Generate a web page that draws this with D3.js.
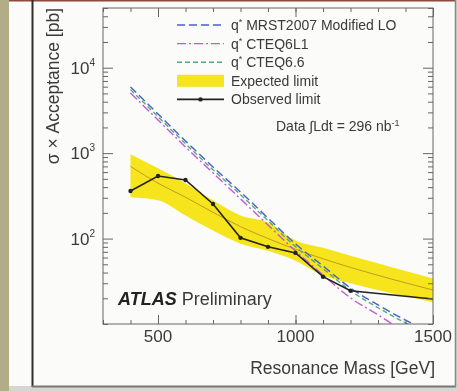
<!DOCTYPE html>
<html>
<head>
<meta charset="utf-8">
<script src="https://cdn.jsdelivr.net/npm/d3@7"></script>
<style>
  body { margin: 0; background: #fff; }
  text { font-family: "Liberation Sans", Arial, sans-serif; fill: #3a3a3a; }
</style>
</head>
<body>
<script>
// limit points (GeV, pb)
let masses = [400, 500, 600, 700, 800, 900, 1000, 1100, 1200, 1500];
let observed = [361, 540, 485, 254, 102, 80, 68, 35.8, 24.5, 19.6];
let expected = [700, 445, 305, 203, 138, 100, 75, 58, 46, 25];
let expectedHigh = [970, 665, 445, 280, 186, 154, 95, 78, 63, 34];
let expectedLow = [305, 280, 186, 124, 87, 72, 55, 37, 30, 18];

// theory curves
let theoryMasses = [400, 500, 600, 700, 800, 900, 1000, 1100, 1200, 1300, 1400, 1450];
let mrst = [5960, 2874, 1388, 689, 351, 174, 86.5, 47.8, 26.4, 16.7, 11.1, 9.3];
let cteq6l1 = [5060, 2445, 1180, 587, 291, 144, 71.6, 37.5, 20.2, 12.8, 8, 6.5];
let cteq66 = [5540, 2670, 1290, 640, 326, 162, 80.5, 44.5, 24.5, 15.5, 10.3, 8.6];

let xTicks = [500, 1000, 1500];
let xMinor = d3.range(300, 1501, 100);
let yTicks = [100, 1000, 10000];

let legendLabels = ["MRST2007 Modified LO", "CTEQ6L1", "CTEQ6.6", "Expected limit", "Observed limit"];

let width = 458, height = 391;

let svg = d3.select("body").append("svg")
  .attr("width", width)
  .attr("height", height);

let defs = svg.append("defs");
defs.append("filter").attr("id", "soft")
  .append("feGaussianBlur").attr("stdDeviation", 0.45);
defs.append("clipPath").attr("id", "plotclip")
  .append("rect").attr("x", 103).attr("y", 8).attr("width", 330).attr("height", 316);

// slide around the figure
svg.append("rect").attr("width", width).attr("height", height).attr("fill", "#d6d6d0");
svg.append("rect").attr("width", 9).attr("height", height).attr("fill", "#b2ad86");
svg.append("rect").attr("x", 9).attr("width", 446).attr("height", 386).attr("fill", "#fbfbf9");
svg.append("line").attr("x1", 9).attr("x2", 456).attr("y1", 0.5).attr("y2", 0.5)
  .attr("stroke", "#8e4a3c").attr("stroke-width", 2);
svg.append("line").attr("x1", 32.5).attr("x2", 32.5).attr("y1", 0).attr("y2", 387)
  .attr("stroke", "#2e2e2e").attr("stroke-width", 2);
svg.append("line").attr("x1", 32).attr("x2", 456).attr("y1", 386.5).attr("y2", 386.5)
  .attr("stroke", "#777").attr("stroke-width", 2);
svg.append("line").attr("x1", 455.5).attr("x2", 455.5).attr("y1", 0).attr("y2", 387)
  .attr("stroke", "#888").attr("stroke-width", 1.5);

let g = svg.append("g").attr("filter", "url(#soft)");

let x = d3.scaleLinear().domain([300, 1500]).range([103, 433]);
let y = d3.scaleLog().domain([10, 5e4]).range([324, 8]);

let plot = g.append("g").attr("clip-path", "url(#plotclip)");

let limits = masses.map((m, i) => ({m: m, obs: observed[i], exp: expected[i], hi: expectedHigh[i], lo: expectedLow[i]}));
let theory = theoryMasses.map((m, i) => ({m: m, mrst: mrst[i], l1: cteq6l1[i], c66: cteq66[i]}));

let band = d3.area()
  .x(d => x(d.m))
  .y0(d => y(d.lo))
  .y1(d => y(d.hi))
  .curve(d3.curveMonotoneX);

plot.append("path")
  .datum(limits)
  .attr("d", band)
  .attr("fill", "#f6e41c");

plot.append("path")
  .datum(limits)
  .attr("d", d3.line().x(d => x(d.m)).y(d => y(d.exp)).curve(d3.curveMonotoneX))
  .attr("fill", "none")
  .attr("stroke", "#c49a1a")
  .attr("stroke-width", 1);

let curves = [
  {key: "c66", color: "#4fae7e", dash: "5,3"},
  {key: "l1", color: "#c25ad6", dash: "9,3,2,3"},
  {key: "mrst", color: "#4a5fc8", dash: "8,4"}
];

curves.forEach(c => {
  plot.append("path")
    .datum(theory)
    .attr("d", d3.line().x(d => x(d.m)).y(d => y(d[c.key])).curve(d3.curveMonotoneX))
    .attr("fill", "none")
    .attr("stroke", c.color)
    .attr("stroke-width", 1.4)
    .attr("stroke-dasharray", c.dash);
});

plot.append("path")
  .datum(limits)
  .attr("d", d3.line().x(d => x(d.m)).y(d => y(d.obs)))
  .attr("fill", "none")
  .attr("stroke", "#222")
  .attr("stroke-width", 1.6);

plot.selectAll(".obs-point")
  .data(limits.slice(0, 9))
  .enter()
  .append("circle")
  .attr("class", "obs-point")
  .attr("cx", d => x(d.m))
  .attr("cy", d => y(d.obs))
  .attr("r", 2.2)
  .attr("fill", "#222");

// axes, ticks pointing into the frame
let tickStroke = sel => sel.call(s => s.select(".domain").remove())
  .selectAll("line").attr("stroke", "#666");

g.append("g").attr("transform", "translate(0,324)")
  .call(d3.axisBottom(x).tickValues(xMinor).tickSize(-4).tickFormat(""))
  .call(tickStroke);
g.append("g").attr("transform", "translate(0,324)")
  .call(d3.axisBottom(x).tickValues(xTicks).tickSize(-9).tickFormat(""))
  .call(tickStroke);
g.append("g").attr("transform", "translate(0,8)")
  .call(d3.axisTop(x).tickValues(xMinor).tickSize(-4).tickFormat(""))
  .call(tickStroke);
g.append("g").attr("transform", "translate(0,8)")
  .call(d3.axisTop(x).tickValues(xTicks).tickSize(-9).tickFormat(""))
  .call(tickStroke);

let yMinor = y.ticks().filter(v => yTicks.indexOf(v) < 0);
g.append("g").attr("transform", "translate(103,0)")
  .call(d3.axisLeft(y).tickValues(yMinor).tickSize(-5).tickFormat(""))
  .call(tickStroke);
g.append("g").attr("transform", "translate(103,0)")
  .call(d3.axisLeft(y).tickValues(yTicks).tickSize(-10).tickFormat(""))
  .call(tickStroke);
g.append("g").attr("transform", "translate(433,0)")
  .call(d3.axisRight(y).tickValues(yMinor).tickSize(-5).tickFormat(""))
  .call(tickStroke);
g.append("g").attr("transform", "translate(433,0)")
  .call(d3.axisRight(y).tickValues(yTicks).tickSize(-10).tickFormat(""))
  .call(tickStroke);

g.append("rect")
  .attr("x", 103).attr("y", 8).attr("width", 330).attr("height", 316)
  .attr("fill", "none").attr("stroke", "#666").attr("stroke-width", 1);

// tick labels
g.selectAll(".xlabel")
  .data(xTicks)
  .enter()
  .append("text")
  .attr("class", "xlabel")
  .attr("x", d => x(d))
  .attr("y", 342)
  .attr("text-anchor", "middle")
  .style("font-size", "17px")
  .text(d => d);

let ylab = g.selectAll(".ylabel")
  .data(yTicks)
  .enter()
  .append("text")
  .attr("class", "ylabel")
  .attr("x", 95)
  .attr("y", d => y(d) + 6)
  .attr("text-anchor", "end")
  .style("font-size", "17px");
ylab.append("tspan").text("10");
ylab.append("tspan")
  .attr("dy", -8)
  .style("font-size", "10px")
  .text(d => Math.round(Math.log10(d)));

g.append("text")
  .attr("x", 435)
  .attr("y", 374)
  .attr("text-anchor", "end")
  .style("font-size", "17.5px")
  .text("Resonance Mass [GeV]");

g.append("text")
  .attr("transform", "translate(59,8) rotate(-90)")
  .attr("text-anchor", "end")
  .style("font-size", "17.5px")
  .text("σ × Acceptance [pb]");

// legend
let legend = g.append("g");
let rowY = i => 25 + i * 18.6;

curves.slice().reverse().forEach((c, i) => {
  legend.append("line")
    .attr("x1", 177).attr("x2", 224)
    .attr("y1", rowY(i)).attr("y2", rowY(i))
    .attr("stroke", c.color)
    .attr("stroke-width", 1.4)
    .attr("stroke-dasharray", c.dash);
});
legend.append("rect")
  .attr("x", 177).attr("y", rowY(3) - 6).attr("width", 47).attr("height", 12)
  .attr("fill", "#f6e41c");
legend.append("line")
  .attr("x1", 177).attr("x2", 224)
  .attr("y1", rowY(4)).attr("y2", rowY(4))
  .attr("stroke", "#222").attr("stroke-width", 1.6);
legend.append("circle")
  .attr("cx", 200.5).attr("cy", rowY(4)).attr("r", 2.2).attr("fill", "#222");

legendLabels.forEach((label, i) => {
  let t = legend.append("text")
    .attr("x", 231)
    .attr("y", rowY(i) + 5)
    .style("font-size", "14px");
  if (i < 3) {
    t.append("tspan").text("q");
    t.append("tspan").attr("dy", -5).style("font-size", "9px").text("*");
    t.append("tspan").attr("dy", 5).text(" " + label);
  } else {
    t.text(label);
  }
});

let lumi = g.append("text")
  .attr("x", 276)
  .attr("y", 131)
  .style("font-size", "14px");
lumi.append("tspan").text("Data ∫Ldt = 296 nb");
lumi.append("tspan").attr("dy", -5).style("font-size", "9px").text("-1");

let atlas = g.append("text")
  .attr("x", 118)
  .attr("y", 305)
  .style("font-size", "18px");
atlas.append("tspan")
  .style("font-weight", "bold")
  .style("font-style", "italic")
  .attr("fill", "#222")
  .text("ATLAS");
atlas.append("tspan").text(" Preliminary");
</script>
</body>
</html>
